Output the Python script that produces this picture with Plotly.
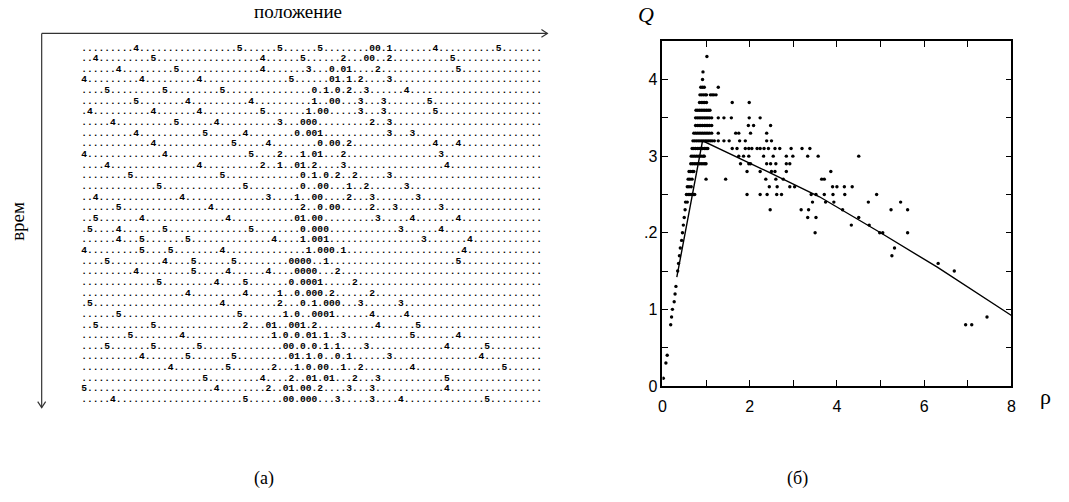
import plotly.graph_objects as go

W, H = 1069, 502

# Space-time diagram: one string per time step, cells are '.' (empty) or a car's speed
ca_rows = [
    ".........4.................5......5......5........00.1.......4..........5",
    "..4.........5..................4......5......2...00..2..........5.......",
    "......4.........5..............4.......3...0.01....2.............5..",
    "4.........4.........4...............5......01.1.2....3.............",
    "....5.........5.........5...............0.1.0.2..3......4.........",
    ".........5........4..........4..........1..00...3...3.......5.......",
    ".4..........4.......4..........5.......1.00.....3...3........5..",
    ".....4..........5......4..........3...000.........2..3..........",
    ".........4...........5......4........0.001...........3...3......",
    "............4.............5.....4........0.00.2..............4...4...",
    "4.............4..............5....2...1.01...2................3....",
    "....4...............4..........2..1..01.2....3.................4.",
    "........5...............5.............0.1.0.2..2.....3..........",
    ".............5..............5.........0..00...1..2......3........",
    "..4..............4..............3....1..00....2...3.......3......",
    "......5...............4...............2..0.00.....2...3.......3.....",
    "..5.......4..............4...........01.00.........3.....4.......4...",
    ".5....4.......5..............5........0.000............3......4.......",
    "......4...5.......5..............4....1.001................3.......4...",
    "4.........5....5........4..............1.000.1....................4.......",
    "....5.........4....5......5.........0000..1......................5....",
    ".........4.........5.....4......4....0000...2.........................",
    ".............5.........4....5.......0.0001.....2......................",
    "..................4.........4.....1..0.000.2......2...................",
    ".5......................4.........2...0.1.000...3......3..............",
    "......5....................5.......1.0..0001......4.....4.............",
    "..5.........5...............2...01..001.2..........4......5..........",
    "........5........4...............1.0.0.01.1..3...........5.......4.....",
    "....5.......5.......5..............00.0.0.1.1....3.............4......5.",
    "..........4.......5.......5.........01.1.0..0.1......3...............4....",
    "...............4.........5.......2...1.0.00..1..2........4...............5",
    ".....................5.........4....2..01.01...2...3...........5..........",
    "5......................4........2..01.00.2....3...3............4........",
    ".....4......................5......00.000...3.....3....4..............5...",
]
N_CELLS = 80

# Flow Q versus density rho: (Q level, densities observed at that level)
obs = [
    (0.1, [0.02]), (0.3, [0.08]), (0.4, [0.11]), (0.8, [0.19, 6.95, 7.09]),
    (0.9, [0.21, 7.44]), (1.0, [0.23]), (1.1, [0.27]), (1.2, [0.29]),
    (1.3, [0.31]), (1.5, [0.35, 6.69]), (1.6, [0.37, 6.32]), (1.7, [0.39, 5.26]),
    (1.8, [0.41, 5.32]), (1.9, [0.44]), (2.0, [0.46, 3.5, 4.98, 5.05, 5.62]),
    (2.1, [0.48, 4.33, 4.74]), (2.2, [0.50, 3.33, 3.52, 4.5]),
    (2.3, [0.52, 2.47, 3.18, 3.35, 4.13, 5.24, 5.62]),
    (2.4, [0.53, 0.57, 3.44, 3.74, 3.93, 4.72, 5.46]),
    (2.5, [0.55, 0.59, 0.63, 0.67, 0.71, 0.74, 1.94, 2.24, 2.4, 2.62, 2.73,
           3.41, 3.52, 3.71, 3.91, 4.18, 4.91]),
    (2.6, [0.57, 0.61, 0.66, 2.45, 2.63, 2.92, 3.03, 3.9, 4.0, 4.17, 4.35]),
    (2.7, [0.59, 0.63, 0.68, 1.0, 1.45, 2.37, 2.6, 2.77, 3.65, 3.71]),
    (2.8, [0.61, 0.65, 0.69, 0.72, 1.94, 2.24, 2.5, 2.58, 2.84, 3.86]),
    (2.9, [0.65, 0.69, 0.73, 0.77, 0.81, 0.85, 0.89, 0.93, 0.97, 1.0,
           1.79, 1.98, 2.02, 2.39, 2.48, 2.6, 2.84, 2.92]),
    (3.0, [0.66, 0.7, 0.74, 0.78, 0.82, 0.86, 0.9, 0.94, 0.96,
           1.75, 1.86, 1.98, 2.32, 2.54, 2.84, 2.99, 3.33, 3.57, 4.5]),
    (3.1, [0.68, 0.72, 0.76, 0.8, 0.84, 0.88, 0.92, 0.96, 1.0, 1.04,
           1.6, 1.71, 1.9, 1.98, 2.05, 2.17, 2.24, 2.33, 2.43, 2.58, 2.69,
           2.95, 3.2, 3.38]),
    (3.2, [0.7, 0.74, 0.78, 0.82, 0.86, 0.9, 0.94, 0.98, 1.02, 1.06, 1.1,
           1.14, 1.19, 1.28, 1.41, 1.53, 1.77, 1.9, 2.39, 2.5]),
    (3.3, [0.72, 0.76, 0.8, 0.84, 0.88, 0.92, 0.96, 1.0, 1.04, 1.08, 1.13,
           1.28, 1.68, 1.75, 2.02, 2.39]),
    (3.4, [0.76, 0.8, 0.84, 0.88, 0.92, 0.96, 1.0, 1.04, 1.08, 1.13,
           1.97, 2.09, 2.48]),
    (3.5, [0.76, 0.8, 0.84, 0.88, 0.92, 0.96, 1.0, 1.04, 1.08, 1.13,
           1.28, 1.41, 1.58, 1.99, 2.24]),
    (3.6, [0.77, 0.81, 0.85, 0.89, 0.93, 0.97, 1.01, 1.05, 1.09]),
    (3.7, [0.85, 0.89, 0.93, 0.97, 1.01, 1.6, 1.99]),
    (3.8, [0.86, 0.9, 0.94, 0.98, 1.01, 1.1, 1.14, 1.18, 1.23]),
    (3.9, [0.88, 0.92, 0.96, 1.28]),
    (4.0, [0.92]), (4.1, [0.93]), (4.3, [1.02]),
]

# Model curve through the data
rho_fit = [0.33, 0.92, 2.4, 3.6, 5.0, 6.3, 8.0]
q_fit = [1.42, 3.2, 2.8, 2.47, 2.0, 1.55, 0.92]

x_ticks = [0, 1, 2, 3, 4, 5, 6, 7, 8]
x_ticktext = ["0", "", "2", "", "4", "", "6", "", "8"]
y_ticks = [0, 0.5, 1, 1.5, 2, 2.5, 3, 3.5, 4, 4.5]
y_ticktext = ["0", "", "1", "", ".2", "", "3", "", "4", ""]

rho_obs = [r for q, rs in obs for r in rs]
q_obs = [q for q, rs in obs for r in rs]


def px(x):
    return x / W


def py(y):
    return 1 - y / H


fig = go.Figure()

# ---- left panel: space-time diagram as monospace text ----
rows = [(r + "." * N_CELLS)[:N_CELLS] for r in ca_rows]
row_top, row_bot = 49, 407
pitch = (row_bot - row_top) / (len(rows) - 1)
fig.add_trace(go.Scatter(
    x=[0] * len(rows), y=list(range(len(rows))), mode="text",
    text=rows, textposition="middle right",
    textfont=dict(family="Liberation Mono, Courier New, monospace",
                  size=9.6, color="black", weight="bold"),
    xaxis="x2", yaxis="y2", showlegend=False, hoverinfo="skip",
))

# ---- right panel: fundamental diagram ----
fig.add_trace(go.Scatter(
    x=rho_obs, y=q_obs, mode="markers",
    marker=dict(color="black", size=3.4), xaxis="x", yaxis="y",
    showlegend=False, hoverinfo="skip",
))
fig.add_trace(go.Scatter(
    x=rho_fit, y=q_fit, mode="lines",
    line=dict(color="black", width=1.4), xaxis="x", yaxis="y",
    showlegend=False, hoverinfo="skip",
))

axis_font = dict(family="Liberation Sans, Arial, sans-serif", size=16, color="black")

fig.update_layout(
    width=W, height=H,
    margin=dict(l=0, r=0, t=0, b=0),
    paper_bgcolor="white", plot_bgcolor="rgba(0,0,0,0)",
    xaxis=dict(
        domain=[px(664), px(1016)], range=[0, 8],
        tickvals=x_ticks, ticktext=x_ticktext, ticks="inside", ticklen=6,
        tickwidth=1.2, tickcolor="black", ticklabelstandoff=5,
        showline=True, linecolor="black", linewidth=1.5, mirror="ticks",
        showgrid=False, zeroline=False, tickfont=axis_font,
    ),
    yaxis=dict(
        domain=[py(393), py(42)], range=[0, 4.5],
        tickvals=y_ticks, ticktext=y_ticktext, ticks="inside", ticklen=6,
        tickwidth=1.2, tickcolor="black",
        showline=True, linecolor="black", linewidth=1.5, mirror="ticks",
        showgrid=False, zeroline=False, tickfont=axis_font,
    ),
    xaxis2=dict(domain=[0, 1], range=[-78, W - 78], visible=False, fixedrange=True),
    yaxis2=dict(domain=[0, 1],
                range=[(H - row_top) / pitch, -row_top / pitch],
                visible=False, fixedrange=True),
)

serif = "Times New Roman, Liberation Serif, serif"
ann = [
    dict(x=px(297), y=py(12), text="положение", font=dict(family=serif, size=19)),
    dict(x=px(14), y=py(225), text="врем", textangle=-90, font=dict(family=serif, size=19)),
    dict(x=px(262), y=py(487), text="(а)", font=dict(family=serif, size=18)),
    dict(x=px(800), y=py(487), text="(б)", font=dict(family=serif, size=18)),
    dict(x=px(647), y=py(15), text="<i>Q</i>", font=dict(family=serif, size=22)),
    dict(x=px(1050), y=py(404), text="ρ", font=dict(family=serif, size=22)),
]
for a in ann:
    a.update(xref="paper", yref="paper", showarrow=False,
             xanchor="center", yanchor="middle")
    a["font"]["color"] = "black"
fig.update_layout(annotations=ann)

# axes arrows of the space-time diagram
line_style = dict(color="#333", width=1.2)
shapes = [
    dict(type="line", x0=px(38), y0=py(34), x1=px(548), y1=py(34), line=line_style),
    dict(type="line", x0=px(38), y0=py(34), x1=px(38), y1=py(415), line=line_style),
    dict(type="path",
         path=f"M {px(542)} {py(30)} L {px(548)} {py(34)} L {px(542)} {py(38)}",
         line=line_style),
    dict(type="path",
         path=f"M {px(34)} {py(409)} L {px(38)} {py(415)} L {px(42)} {py(409)}",
         line=line_style),
]
for s in shapes:
    s.update(xref="paper", yref="paper")
fig.update_layout(shapes=shapes)

fig.write_html("out.html")
